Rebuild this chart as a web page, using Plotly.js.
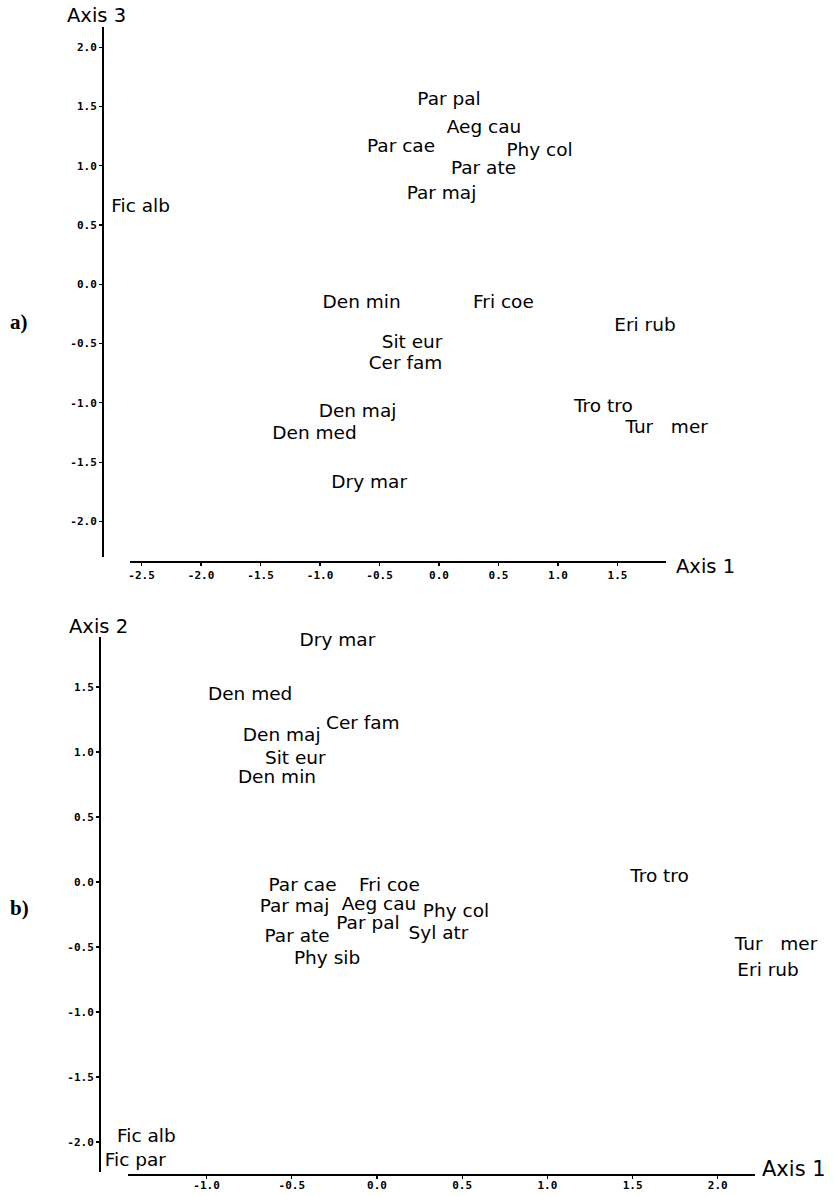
<!DOCTYPE html>
<html>
<head>
<meta charset="utf-8">
<script src="https://cdn.plot.ly/plotly-3.0.1.min.js"></script>
<style>html,body{margin:0;padding:0;background:#fff;}#plot{width:835px;height:1196px;}</style>
</head>
<body>
<div id="plot"></div>
<script>
// Panel a) : Axis 1 vs Axis 3
var speciesA = ["Par pal","Aeg cau","Par cae","Phy col","Par ate","Par maj","Fic alb","Den min","Fri coe","Eri rub","Sit eur","Cer fam","Den maj","Den med","Dry mar","Tro tro","Tur\u00a0\u00a0 mer"];
var axis1A = [0.084, 0.378, -0.319, 0.845, 0.374, 0.021, -2.508, -0.650, 0.541, 1.731, -0.227, -0.282, -0.685, -1.046, -0.587, 1.381, 1.913];
var axis3A = [1.553, 1.316, 1.156, 1.125, 0.965, 0.755, 0.646, -0.163, -0.163, -0.357, -0.498, -0.679, -1.078, -1.264, -1.675, -1.041, -1.218];

// Panel b) : Axis 1 vs Axis 2
var speciesB = ["Dry mar","Den med","Cer fam","Den maj","Sit eur","Den min","Par cae","Fri coe","Par maj","Aeg cau","Phy col","Par pal","Syl atr","Par ate","Phy sib","Tro tro","Tur\u00a0\u00a0 mer","Eri rub","Fic alb","Fic par"];
var axis1B = [-0.232, -0.744, -0.083, -0.559, -0.479, -0.587, -0.437, 0.073, -0.484, 0.012, 0.464, -0.053, 0.361, -0.469, -0.293, 1.658, 2.342, 2.295, -1.353, -1.418];
var axis2B = [1.848, 1.435, 1.212, 1.121, 0.941, 0.800, -0.031, -0.031, -0.192, -0.177, -0.231, -0.323, -0.400, -0.423, -0.592, 0.038, -0.485, -0.685, -1.962, -2.146];

// Tick values / labels
var xTicksA = [-2.5, -2.0, -1.5, -1.0, -0.5, 0.0, 0.5, 1.0, 1.5];
var yTicksA = [-2.0, -1.5, -1.0, -0.5, 0.0, 0.5, 1.0, 1.5, 2.0];
var xTicksB = [-1.0, -0.5, 0.0, 0.5, 1.0, 1.5, 2.0];
var yTicksB = [-2.0, -1.5, -1.0, -0.5, 0.0, 0.5, 1.0, 1.5];
function lab(v){ return (v < 0 ? "-" : "") + Math.abs(v).toFixed(1); }

var W = 835, H = 1196;
function px(x){ return x / W; }
function py(y){ return 1 - y / H; }

var labelFont = {family: "DejaVu Sans, sans-serif", size: 18.5, color: "#000"};
var tickFont = {family: "DejaVu Sans Mono, monospace", size: 11, color: "#000", weight: "bold"};

var traces = [
  {type: "scatter", mode: "text", x: axis1A, y: axis3A, text: speciesA, textposition: "middle center",
   textfont: labelFont, cliponaxis: false, hoverinfo: "none", xaxis: "x", yaxis: "y"},
  {type: "scatter", mode: "text", x: axis1B, y: axis2B, text: speciesB, textposition: "middle center",
   textfont: labelFont, cliponaxis: false, hoverinfo: "none", xaxis: "x2", yaxis: "y2"}
];

function axisBase(){
  return {showline: true, linecolor: "#000", linewidth: 2, ticks: "outside", ticklen: 3, tickwidth: 1.2,
          tickcolor: "#000", showgrid: false, zeroline: false, tickfont: tickFont, fixedrange: true};
}
// x axes span to the right page edge (so right-most labels are kept); the visible
// axis line is drawn as a decoration over the original axis extent.
var xa = Object.assign(axisBase(), {domain: [px(130), 1], range: [-2.597, (835 - 439) / 119], anchor: "free", position: py(562),
  tickvals: xTicksA, ticktext: xTicksA.map(lab), showline: false});
var ya = Object.assign(axisBase(), {domain: [py(557), py(27)], range: [-2.30, 2.17], anchor: "free", position: px(103),
  tickvals: yTicksA, ticktext: yTicksA.map(lab)});
var xb = Object.assign(axisBase(), {domain: [px(128), 1], range: [-1.461, (835 - 377) / 170.4], anchor: "free", position: py(1175),
  tickvals: xTicksB, ticktext: xTicksB.map(lab), showline: false, ticklabelstandoff: -3});
var yb = Object.assign(axisBase(), {domain: [py(1172), py(637)], range: [-2.23, 1.885], anchor: "free", position: px(100),
  tickvals: yTicksB, ticktext: yTicksB.map(lab)});

var titleFont = {family: "DejaVu Sans, sans-serif", size: 19.5, color: "#000"};
var panelFont = {family: "Liberation Serif, serif", size: 21, color: "#000", weight: "bold"};
function ann(text, x, y, font){
  return {text: text, xref: "paper", yref: "paper", x: px(x), y: py(y), xanchor: "center", yanchor: "middle",
          showarrow: false, font: font};
}
function hline(x0, x1, y){
  return {type: "line", xref: "paper", yref: "paper", x0: px(x0), x1: px(x1), y0: py(y), y1: py(y),
          line: {color: "#000", width: 1.8}};
}

var layout = {
  width: W, height: H, margin: {l: 0, r: 0, t: 0, b: 0}, showlegend: false,
  paper_bgcolor: "#fff", plot_bgcolor: "#fff",
  xaxis: xa, yaxis: ya, xaxis2: xb, yaxis2: yb,
  shapes: [hline(130, 666, 562), hline(128, 755, 1175)],
  annotations: [
    ann("Axis 3", 96, 15, titleFont),
    ann("Axis 1", 705, 566, titleFont),
    ann("Axis 2", 98, 626, titleFont),
    ann("Axis 1", 794, 1169, {family: "DejaVu Sans, sans-serif", size: 21, color: "#000"}),
    ann("a)", 19, 322, panelFont),
    ann("b)", 19, 908, panelFont)
  ]
};

Plotly.newPlot("plot", traces, layout, {staticPlot: true, displayModeBar: false});
</script>
</body>
</html>
